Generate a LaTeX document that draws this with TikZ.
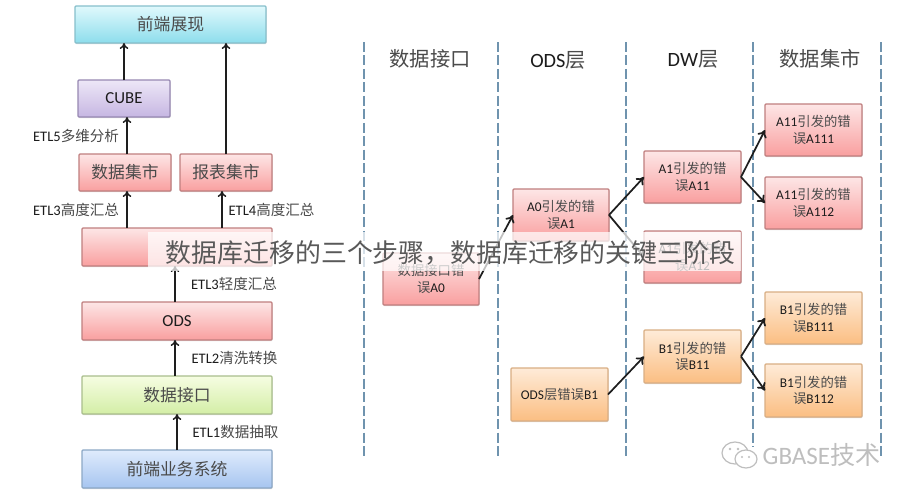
\documentclass[tikz,border=0pt]{standalone}
\usepackage{fontspec}
\usetikzlibrary{arrows.meta,shadows,fadings}
\setmainfont{Carlito}
\newfontfamily\cjkf{Noto Sans CJK SC}
\newcommand{\zh}[1]{{\cjkf\color{zhgray}#1}}
\definecolor{zhgray}{HTML}{4A4A4A}
\definecolor{latin}{HTML}{1C1C1C}
\definecolor{arrowc}{HTML}{1E1E1E}
\definecolor{dashc}{HTML}{6F93AE}
\definecolor{wm}{HTML}{BEBEBE}
\definecolor{redT}{HTML}{FDE6E6}\definecolor{redB}{HTML}{F99F9F}\definecolor{redD}{HTML}{C07F7F}
\definecolor{oraT}{HTML}{FEEBD8}\definecolor{oraB}{HTML}{FBBE82}\definecolor{oraD}{HTML}{D9AE84}
\definecolor{grnT}{HTML}{F6FDE2}\definecolor{grnB}{HTML}{D3EEA6}\definecolor{grnD}{HTML}{A9BE8C}
\definecolor{bluT}{HTML}{DFEBFC}\definecolor{bluB}{HTML}{A6C5F0}\definecolor{bluD}{HTML}{8CA8C6}
\definecolor{purT}{HTML}{EDE7F7}\definecolor{purB}{HTML}{C6B6E2}\definecolor{purD}{HTML}{9788B2}
\definecolor{cyaT}{HTML}{E0F9FC}\definecolor{cyaB}{HTML}{8DDDEC}\definecolor{cyaD}{HTML}{86BFCB}
\tikzset{
  px/.style={x=0.75pt,y=-0.75pt},
  sz/.style 2 args={minimum width=#1*0.75pt,minimum height=#2*0.75pt},
  boxbase/.style={rectangle,rounded corners=0.8pt,line width=0.9pt,inner sep=0pt,outer sep=0pt,align=center,text=latin,
    drop shadow={shadow xshift=0.4pt,shadow yshift=-0.9pt,opacity=0.25,fill=black!60}},
  bigbox/.style={boxbase,font=\fontsize{12.6}{15}\selectfont},
  smallbox/.style={boxbase,font=\fontsize{10}{12.2}\selectfont},
  redb/.style={draw=redD,top color=redT,bottom color=redB},
  orangeb/.style={draw=oraD,top color=oraT,bottom color=oraB},
  greenb/.style={draw=grnD,top color=grnT,bottom color=grnB},
  blueb/.style={draw=bluD,top color=bluT,bottom color=bluB},
  purpleb/.style={draw=purD,top color=purT,bottom color=purB},
  cyanb/.style={draw=cyaD,top color=cyaT,bottom color=cyaB},
  etl/.style={inner sep=0pt,text=latin,font=\fontsize{10.9}{13}\selectfont},
  head/.style={inner sep=0pt,text=latin,font=\fontsize{15.2}{18}\selectfont},
  flow/.style={draw=arrowc,line width=1.1pt,-{To[length=4.5pt,width=6.5pt]}},
  flowb/.style={draw=arrowc,line width=1.3pt,-{To[length=5.5pt,width=7.5pt]}},
  lane/.style={draw=dashc,line width=1.05pt,dash pattern=on 7.5pt off 2.6pt},
  wmline/.style={draw=wm,line width=0.9pt},
  veil/.style={fill=white,fill opacity=0.72,draw=none,inner sep=0pt,outer sep=0pt},
  titletext/.style={inner sep=0pt,text=black!65,font=\cjkf\fontsize{19.4}{23}\selectfont}
}
\begin{document}
\begin{tikzpicture}[px]
\fill[white] (0,0) rectangle (901,490);
\useasboundingbox (0,0) rectangle (901,490);

% left stack
\node[bigbox,cyanb,sz={191}{37}] (front) at (170.5,24.5) {\zh{前端展现}};
\node[bigbox,purpleb,sz={92}{37}] (cube) at (124,98.5) {CUBE};
\node[bigbox,redb,sz={92}{37}] (dmart) at (125,172.5) {\zh{数据集市}};
\node[bigbox,redb,sz={92}{37}] (rmart) at (226,172.5) {\zh{报表集市}};
\node[bigbox,redb,sz={190}{38}] (dw) at (177,247) {};
\node[bigbox,redb,sz={190}{38}] (ods) at (177,321) {ODS};
\node[bigbox,greenb,sz={190}{38}] (iface) at (177,395) {\zh{数据接口}};
\node[bigbox,blueb,sz={190}{38}] (biz) at (177,469) {\zh{前端业务系统}};

\draw[flow] (cube.north) -- (cube.north |- front.south);
\draw[flow] (rmart.north) -- (rmart.north |- front.south);
\draw[flow] ([xshift=1.5pt]dmart.north) -- ([xshift=1.5pt]cube.south -| dmart.north);
\draw[flow] ([xshift=1.5pt]dw.north -| dmart.north) -- ([xshift=1.5pt]dmart.south);
\draw[flow] ([xshift=-3pt]dw.north -| rmart.north) -- ([xshift=-3pt]rmart.south);
\draw[flow] ([xshift=-1.5pt]ods.north) -- ([xshift=-1.5pt]dw.south);
\draw[flow] ([xshift=-1.5pt]iface.north) -- ([xshift=-1.5pt]ods.south);
\draw[flow] (biz.north) -- (iface.south);

\node[etl] (l5) at (76,136) {ETL5\zh{多维分析}};
\node[etl] (l3a) at (76,210) {ETL3\zh{高度汇总}};
\node[etl] (l4) at (271.5,210) {ETL4\zh{高度汇总}};
\node[etl] (l3b) at (234,284) {ETL3\zh{轻度汇总}};
\node[etl] (l2) at (234.5,358) {ETL2\zh{清洗转换}};
\node[etl] (l1) at (235.5,432) {ETL1\zh{数据抽取}};

% lanes
\coordinate (t1) at (364,42); \coordinate (b1x) at (364,458);
\coordinate (t2) at (498,42); \coordinate (b2x) at (498,458);
\coordinate (t3) at (626,42); \coordinate (b3x) at (626,458);
\coordinate (t4) at (753,42); \coordinate (b4x) at (753,447);
\coordinate (t5) at (881,42); \coordinate (b5x) at (881,458);
\draw[lane] (t1) -- (b1x);
\draw[lane] (t2) -- (b2x);
\draw[lane] (t3) -- (b3x);
\draw[lane] (t4) -- (b4x);
\draw[lane] (t5) -- (b5x);

\node[head] (h1) at (430,59) {\zh{数据接口}};
\node[head] (h2) at (558,60) {ODS\zh{层}};
\node[head] (h3) at (693,59) {DW\zh{层}};
\node[head] (h4) at (820,59) {\zh{数据集市}};

% error boxes
\node[smallbox,redb,sz={96}{52}] (a0) at (431,279) {\zh{数据接口错}\\\zh{误}A0};
\node[smallbox,redb,sz={96}{52}] (a1) at (561,215) {A0\zh{引发的错}\\\zh{误}A1};
\node[smallbox,redb,sz={97}{52}] (a11) at (692.5,177) {A1\zh{引发的错}\\\zh{误}A11};
\node[smallbox,redb,sz={97}{52}] (a12) at (692.5,257) {A1\zh{引发的错}\\\zh{误}A12};
\node[smallbox,redb,sz={97}{52}] (a111) at (813.5,130) {A11\zh{引发的错}\\\zh{误}A111};
\node[smallbox,redb,sz={97}{52}] (a112) at (813.5,203) {A11\zh{引发的错}\\\zh{误}A112};
\node[smallbox,orangeb,sz={97}{53}] (b1) at (559.5,394.5) {ODS\zh{层错误}B1};
\node[smallbox,orangeb,sz={97}{53}] (b11) at (692.5,356.5) {B1\zh{引发的错}\\\zh{误}B11};
\node[smallbox,orangeb,sz={97}{52}] (b111) at (813.5,318) {B1\zh{引发的错}\\\zh{误}B111};
\node[smallbox,orangeb,sz={97}{53}] (b112) at (813.5,390.5) {B1\zh{引发的错}\\\zh{误}B112};

\draw[flowb] (a0.east) -- (a1.west);
\draw[flowb] (a1.east) -- (a11.west);
\draw[flowb] (a1.east) -- (a12.west);
\draw[flowb] (a11.east) -- (a111.west);
\draw[flowb] (a11.east) -- (a112.west);
\draw[flowb] (b1.east) -- (b11.west);
\draw[flowb] (b11.east) -- (b111.west);
\draw[flowb] (b11.east) -- (b112.west);

% watermark
\draw[wmline] (735,453) ellipse [x radius=13,y radius=11];
\draw[wmline,fill=white] (746,459) ellipse [x radius=11,y radius=9];
\fill[wm] (730,449) circle (1.3) (738,449) circle (1.3) (742,457) circle (1.1) (749,457) circle (1.1);
\node[inner sep=0pt,text=wm,font=\fontsize{18.8}{22}\selectfont] (wmtext) at (821.5,455) {GBASE{\cjkf 技术}};

% title overlay
\fill[veil] (148,232) rectangle (741,271);
\node[titletext] (title) at (450.5,253) {数据库迁移的三个步骤，数据库迁移的关键三阶段};
\end{tikzpicture}
\end{document}
